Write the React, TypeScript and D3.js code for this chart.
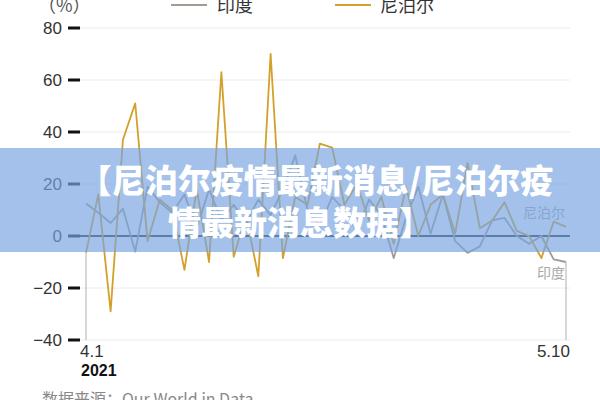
import React from "react";
import * as d3 from "d3";

const dates = ["4.1","4.2","4.3","4.4","4.5","4.6","4.7","4.8","4.9","4.10","4.11","4.12","4.13","4.14","4.15","4.16","4.17","4.18","4.19","4.20","4.21","4.22","4.23","4.24","4.25","4.26","4.27","4.28","4.29","4.30","5.1","5.2","5.3","5.4","5.5","5.6","5.7","5.8","5.9","5.10"];
const nepal = [-6.5, 16, -29, 37, 51, -2, 14, 10, -13, 18, -10, 63, -8, 8, -15.5, 70, -8.5, 15, 12, 35.5, 34, 12, 20, 6, 15, -3, 19, 0, 12, 16, 1, 28, 3, 6, 13, 2, 0, -8.5, 5.5, 3.5];
const india = [12.5, 9, 5, 10.5, -6, 19, 13, 9, 16, 3, 18, 6, 12, 5, 14, 8, 18, 31, 10, 4, 15, 10, 2, 14, 8, -8.5, 7, 19, 1, 16, -2, -6.5, -4, 6, 7, 0, -3, 0, -9, -10];
const yTicks = [80, 60, 40, 20, 0, -20, -40];
const seriesNames = ["印度", "尼泊尔"];
const xLabels = ["4.1", "5.10"];
const yearLabel = "2021";
const unitLabel = "（%）";
const bannerLines = ["【尼泊尔疫情最新消息/尼泊尔疫", "情最新消息数据】"];
const sourceLabel = "数据来源：Our World in Data";

const INDIA_COLOR = "#a39b93";
const NEPAL_COLOR = "#d3a12b";
const FONT = "'Liberation Sans', Arial, sans-serif";
const CJK = "'Noto Sans CJK SC', 'Noto Sans', sans-serif";

export default function App() {
  const W = 600, H = 400;
  const x = d3.scaleLinear().domain([0, dates.length - 1]).range([86, 566]);
  const y = d3.scaleLinear().domain([-40, 80]).range([340, 28]);
  const line = d3.line<number>().x((_, i) => x(i)).y((d) => y(d));
  const n = dates.length;

  return (
    <svg width={W} height={H} style={{ position: "absolute", left: 0, top: 0, background: "#fff" }}>
      <rect width={W} height={H} fill="#fff" />
      {yTicks.map((t) => (
        <line key={"g" + t} x1={80} x2={570} y1={y(t)} y2={y(t)} stroke={t === 0 ? "#2b2b2b" : "#ececec"} strokeWidth={t === 0 ? 2 : 1} />
      ))}
      {yTicks.map((t) => (
        <g key={"t" + t}>
          <line x1={68} x2={80} y1={y(t)} y2={y(t)} stroke="#111" strokeWidth={3} />
          <text x={62} y={y(t)} dy="0.35em" textAnchor="end" fontFamily={FONT} fontSize={17} fill="#333">
            {t < 0 ? "−" + Math.abs(t) : t}
          </text>
        </g>
      ))}
      <line x1={x(0)} x2={x(0)} y1={y(Math.min(nepal[0], india[0]))} y2={y(-40)} stroke="#bdbdbd" strokeWidth={1.2} />
      <line x1={x(n - 1)} x2={x(n - 1)} y1={y(Math.min(nepal[n - 1], india[n - 1]))} y2={y(-40)} stroke="#bdbdbd" strokeWidth={1.2} />
      <path d={line(india) || ""} fill="none" stroke={INDIA_COLOR} strokeWidth={1.8} strokeLinejoin="round" />
      <path d={line(nepal) || ""} fill="none" stroke={NEPAL_COLOR} strokeWidth={1.8} strokeLinejoin="round" />
      <text x={565} y={y(nepal[n - 1]) - 9} textAnchor="end" fontFamily={CJK} fontSize={14} fill="#a8a8a8">{seriesNames[1]}</text>
      <text x={565} y={y(india[n - 1]) + 16} textAnchor="end" fontFamily={CJK} fontSize={14} fill="#a8a8a8">{seriesNames[0]}</text>
      <text x={80} y={357} fontFamily={FONT} fontSize={17} fill="#333">{xLabels[0]}</text>
      <text x={81} y={376} fontFamily={FONT} fontSize={16} fontWeight="bold" fill="#111">{yearLabel}</text>
      <text x={570} y={357} textAnchor="end" fontFamily={FONT} fontSize={17} fill="#333">{xLabels[1]}</text>
      <text x={38} y={12} fontFamily={CJK} fontSize={18} fill="#555">{unitLabel}</text>
      <line x1={171} x2={207} y1={5} y2={5} stroke={INDIA_COLOR} strokeWidth={2} />
      <text x={217} y={12} fontFamily={CJK} fontSize={18} fill="#333">{seriesNames[0]}</text>
      <line x1={335} x2={371} y1={5} y2={5} stroke={NEPAL_COLOR} strokeWidth={2} />
      <text x={380} y={12} fontFamily={CJK} fontSize={18} fill="#333">{seriesNames[1]}</text>
      <text x={42} y={405} fontFamily={CJK} fontSize={16} fill="#888">{sourceLabel}</text>
      <rect x={0} y={148} width={600} height={104} fill="rgb(120,164,224)" opacity={0.68} />
      <text x={316} y={193} textAnchor="middle" fontFamily={CJK} fontSize={33} fontWeight={900} fill="#fff">{bannerLines[0]}</text>
      <text x={300} y={235} textAnchor="middle" fontFamily={CJK} fontSize={33} fontWeight={900} fill="#fff">{bannerLines[1]}</text>
    </svg>
  );
}
